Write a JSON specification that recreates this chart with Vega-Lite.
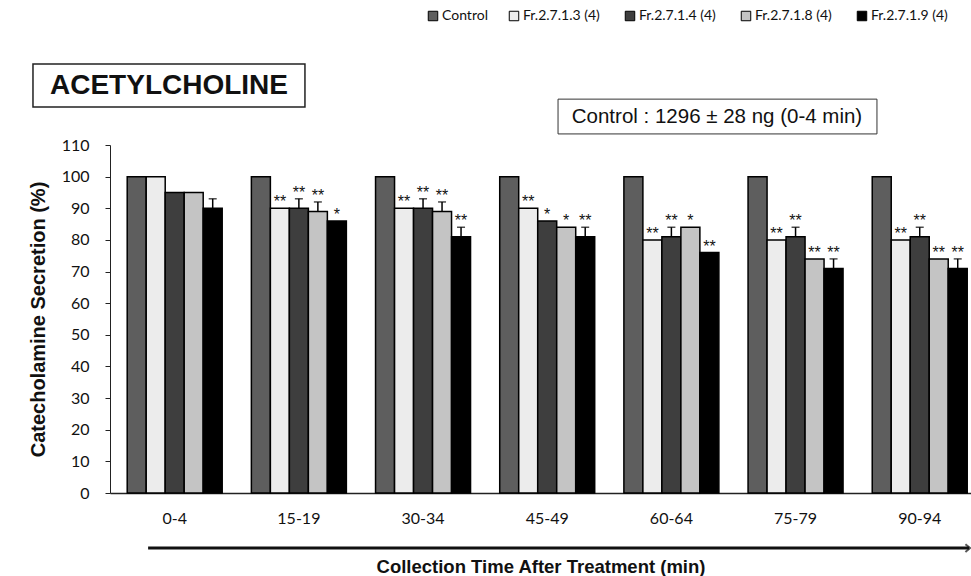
{
  "$schema": "https://vega.github.io/schema/vega-lite/v6.json",
  "width": 861,
  "height": 348,
  "autosize": {"type": "none"},
  "padding": {"left": 110, "top": 145, "right": 0, "bottom": 83},
  "background": "white",
  "config": {
    "view": {"stroke": null},
    "axis": {"grid": false},
    "axisX": {
      "titleFont": "Liberation Sans", "titleFontSize": 18.5, "titleFontWeight": "bold",
      "titleColor": "#111", "titlePadding": 31,
      "labelFont": "Lato", "labelFontSize": 16, "labelColor": "#111",
      "labelAngle": 0, "labelPadding": 17,
      "ticks": false, "domainColor": "#222", "domainWidth": 1.5
    },
    "axisY": {
      "tickCount": 12, "labelOverlap": false, "labelFlush": false,
      "tickSize": 5, "tickColor": "#222", "domainColor": "#222",
      "labelFont": "Lato", "labelFontSize": 16, "labelColor": "#111", "labelPadding": 16,
      "titleFont": "Liberation Sans", "titleFontSize": 20, "titleFontWeight": "bold",
      "titleColor": "#111", "titlePadding": 13
    }
  },
  "datasets": {
    "secretion": [
      {"time": "0-4", "series": "Control", "value": 100, "upper": 100, "sig": ""},
      {"time": "0-4", "series": "Fr.2.7.1.3  (4)", "value": 100, "upper": 100, "sig": ""},
      {"time": "0-4", "series": "Fr.2.7.1.4  (4)", "value": 95, "upper": 95, "sig": ""},
      {"time": "0-4", "series": "Fr.2.7.1.8  (4)", "value": 95, "upper": 95, "sig": ""},
      {"time": "0-4", "series": "Fr.2.7.1.9  (4)", "value": 90, "upper": 93, "sig": ""},
      {"time": "15-19", "series": "Control", "value": 100, "upper": 100, "sig": ""},
      {"time": "15-19", "series": "Fr.2.7.1.3  (4)", "value": 90, "upper": 90, "sig": "**"},
      {"time": "15-19", "series": "Fr.2.7.1.4  (4)", "value": 90, "upper": 93, "sig": "**"},
      {"time": "15-19", "series": "Fr.2.7.1.8  (4)", "value": 89, "upper": 92, "sig": "**"},
      {"time": "15-19", "series": "Fr.2.7.1.9  (4)", "value": 86, "upper": 86, "sig": "*"},
      {"time": "30-34", "series": "Control", "value": 100, "upper": 100, "sig": ""},
      {"time": "30-34", "series": "Fr.2.7.1.3  (4)", "value": 90, "upper": 90, "sig": "**"},
      {"time": "30-34", "series": "Fr.2.7.1.4  (4)", "value": 90, "upper": 93, "sig": "**"},
      {"time": "30-34", "series": "Fr.2.7.1.8  (4)", "value": 89, "upper": 92, "sig": "**"},
      {"time": "30-34", "series": "Fr.2.7.1.9  (4)", "value": 81, "upper": 84, "sig": "**"},
      {"time": "45-49", "series": "Control", "value": 100, "upper": 100, "sig": ""},
      {"time": "45-49", "series": "Fr.2.7.1.3  (4)", "value": 90, "upper": 90, "sig": "**"},
      {"time": "45-49", "series": "Fr.2.7.1.4  (4)", "value": 86, "upper": 86, "sig": "*"},
      {"time": "45-49", "series": "Fr.2.7.1.8  (4)", "value": 84, "upper": 84, "sig": "*"},
      {"time": "45-49", "series": "Fr.2.7.1.9  (4)", "value": 81, "upper": 84, "sig": "**"},
      {"time": "60-64", "series": "Control", "value": 100, "upper": 100, "sig": ""},
      {"time": "60-64", "series": "Fr.2.7.1.3  (4)", "value": 80, "upper": 80, "sig": "**"},
      {"time": "60-64", "series": "Fr.2.7.1.4  (4)", "value": 81, "upper": 84, "sig": "**"},
      {"time": "60-64", "series": "Fr.2.7.1.8  (4)", "value": 84, "upper": 84, "sig": "*"},
      {"time": "60-64", "series": "Fr.2.7.1.9  (4)", "value": 76, "upper": 76, "sig": "**"},
      {"time": "75-79", "series": "Control", "value": 100, "upper": 100, "sig": ""},
      {"time": "75-79", "series": "Fr.2.7.1.3  (4)", "value": 80, "upper": 80, "sig": "**"},
      {"time": "75-79", "series": "Fr.2.7.1.4  (4)", "value": 81, "upper": 84, "sig": "**"},
      {"time": "75-79", "series": "Fr.2.7.1.8  (4)", "value": 74, "upper": 74, "sig": "**"},
      {"time": "75-79", "series": "Fr.2.7.1.9  (4)", "value": 71, "upper": 74, "sig": "**"},
      {"time": "90-94", "series": "Control", "value": 100, "upper": 100, "sig": ""},
      {"time": "90-94", "series": "Fr.2.7.1.3  (4)", "value": 80, "upper": 80, "sig": "**"},
      {"time": "90-94", "series": "Fr.2.7.1.4  (4)", "value": 81, "upper": 84, "sig": "**"},
      {"time": "90-94", "series": "Fr.2.7.1.8  (4)", "value": 74, "upper": 74, "sig": "**"},
      {"time": "90-94", "series": "Fr.2.7.1.9  (4)", "value": 71, "upper": 74, "sig": "**"}
    ]
  },
  "layer": [
    {
      "data": {"name": "secretion"},
      "mark": {"type": "bar", "stroke": "black", "strokeWidth": 1.5},
      "encoding": {
        "x": {
          "field": "time", "type": "nominal",
          "sort": ["0-4", "15-19", "30-34", "45-49", "60-64", "75-79", "90-94"],
          "scale": {"paddingInner": 0.235, "paddingOuter": 0.0845, "align": 0.82},
          "title": "Collection Time After Treatment  (min)"
        },
        "xOffset": {
          "field": "series", "type": "nominal",
          "sort": ["Control", "Fr.2.7.1.3  (4)", "Fr.2.7.1.4  (4)", "Fr.2.7.1.8  (4)", "Fr.2.7.1.9  (4)"],
          "scale": {"paddingInner": 0, "paddingOuter": 0}
        },
        "y": {
          "field": "value", "type": "quantitative",
          "scale": {"domain": [0, 110], "nice": false},
          "title": "Catecholamine Secretion (%)"
        },
        "fill": {
          "field": "series", "type": "nominal",
          "scale": {
            "domain": ["Control", "Fr.2.7.1.3  (4)", "Fr.2.7.1.4  (4)", "Fr.2.7.1.8  (4)", "Fr.2.7.1.9  (4)"],
            "range": ["#5e5e5e", "#ececec", "#3e3e3e", "#c4c4c4", "#000000"]
          },
          "legend": {
            "orient": "none", "legendX": 316, "legendY": -136,
            "direction": "horizontal", "columns": 5, "title": null,
            "symbolType": "square", "symbolSize": 90,
            "symbolStrokeColor": "black", "symbolStrokeWidth": 1,
            "labelFont": "Lato", "labelFontSize": 14, "labelColor": "#111",
            "labelOffset": 2, "columnPadding": 19
          }
        }
      }
    },
    {
      "data": {"name": "secretion"},
      "transform": [{"filter": "datum.upper > datum.value"}],
      "mark": {"type": "rule", "color": "black", "strokeWidth": 1.5},
      "encoding": {
        "x": {"field": "time", "type": "nominal"},
        "xOffset": {"field": "series", "type": "nominal"},
        "y": {"field": "value", "type": "quantitative"},
        "y2": {"field": "upper"}
      }
    },
    {
      "data": {"name": "secretion"},
      "transform": [{"filter": "datum.upper > datum.value"}],
      "mark": {"type": "tick", "orient": "horizontal", "color": "black", "size": 8, "thickness": 1.5},
      "encoding": {
        "x": {"field": "time", "type": "nominal"},
        "xOffset": {"field": "series", "type": "nominal"},
        "y": {"field": "upper", "type": "quantitative"}
      }
    },
    {
      "data": {"name": "secretion"},
      "transform": [{"filter": "datum.sig != ''"}],
      "mark": {"type": "text", "font": "Liberation Sans", "fontSize": 16, "color": "#111", "baseline": "alphabetic", "dy": -1},
      "encoding": {
        "x": {"field": "time", "type": "nominal"},
        "xOffset": {"field": "series", "type": "nominal"},
        "y": {"field": "upper", "type": "quantitative"},
        "text": {"field": "sig"}
      }
    },
    {
      "data": {"values": [{}]},
      "mark": {"type": "rect", "fill": "white", "stroke": "#222", "strokeWidth": 1.5},
      "encoding": {
        "x": {"datum": "0-4", "bandPosition": -0.992},
        "x2": {"datum": "15-19", "bandPosition": 0.564},
        "y": {"datum": 135.6},
        "y2": {"datum": 122.0}
      }
    },
    {
      "data": {"values": [{"label": "ACETYLCHOLINE"}]},
      "mark": {"type": "text", "font": "Liberation Sans", "fontSize": 28, "fontWeight": "bold", "color": "#111", "align": "center", "baseline": "middle"},
      "encoding": {
        "x": {"datum": "0-4", "bandPosition": 0.44},
        "y": {"datum": 128.6},
        "text": {"field": "label"}
      }
    },
    {
      "data": {"values": [{}]},
      "mark": {"type": "rect", "fill": "white", "stroke": "#333", "strokeWidth": 1},
      "encoding": {
        "x": {"datum": "45-49", "bandPosition": 0.614},
        "x2": {"datum": "75-79", "bandPosition": 1.357},
        "y": {"datum": 124.5},
        "y2": {"datum": 113.5}
      }
    },
    {
      "data": {"values": [{"label": "Control : 1296 ± 28 ng (0-4 min)"}]},
      "mark": {"type": "text", "font": "Liberation Sans", "fontSize": 20.5, "color": "#111", "align": "center", "baseline": "middle"},
      "encoding": {
        "x": {"datum": "60-64", "bandPosition": 0.98},
        "y": {"datum": 119.0},
        "text": {"field": "label"}
      }
    },
    {
      "data": {"values": [{}]},
      "mark": {"type": "rule", "color": "#111", "strokeWidth": 3},
      "encoding": {
        "x": {"datum": "0-4", "bandPosition": 0.22},
        "x2": {"datum": "90-94", "bandPosition": 1.02},
        "y": {"datum": -17.4}
      }
    },
    {
      "data": {"values": [{}]},
      "mark": {"type": "point", "shape": "M-1.2,-1L0,0L-1.2,1", "filled": false, "stroke": "#111", "strokeWidth": 2, "size": 60},
      "encoding": {
        "x": {"datum": "90-94", "bandPosition": 1.03},
        "y": {"datum": -17.4}
      }
    }
  ]
}
